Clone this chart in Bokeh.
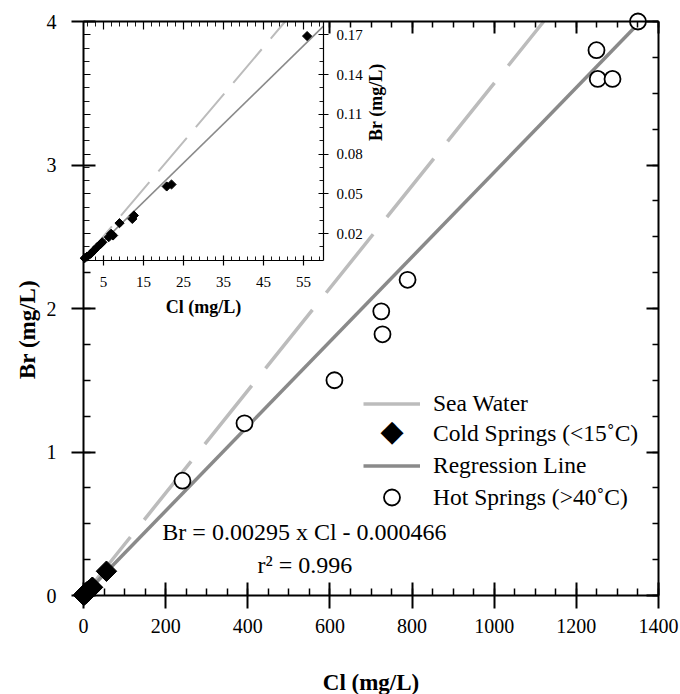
import math
from bokeh.plotting import figure
from bokeh.models import Range1d, LinearAxis, FixedTicker, Legend, LegendItem, Label
from bokeh.embed import file_html
from bokeh.resources import INLINE

# ---------------- data ----------------
cold_cl = [0.3, 0.9, 1.8, 2.6, 3.4, 4.3, 4.7, 6.3, 6.9, 7.4, 9.0, 12.2, 12.6, 20.8, 22.0, 55.9]
cold_br = [0.0014, 0.0026, 0.0047, 0.0072, 0.0097, 0.0122, 0.0134, 0.0172, 0.0198, 0.0185,
           0.0278, 0.0310, 0.0336, 0.0555, 0.0570, 0.1690]
hot_cl = [241, 392, 611, 725, 728, 789, 1249, 1252, 1288, 1350]
hot_br = [0.80, 1.20, 1.50, 1.98, 1.82, 2.20, 3.80, 3.60, 3.60, 4.00]

x_ticks = [0, 200, 400, 600, 800, 1000, 1200, 1400]
y_ticks = [0, 1, 2, 3, 4]
inset_x_ticks = [5, 15, 25, 35, 45, 55]
inset_y_ticks = [0.02, 0.05, 0.08, 0.11, 0.14, 0.17]
inset_y_labels = ["0.02", "0.05", "0.08", "0.11", "0.14", "0.17"]

reg_slope = 0.00295
reg_intercept = -0.000466
r2 = 0.996
sea_ratio = 0.00357

legend_labels = ["Sea Water", "Cold Springs (<15\u02daC)", "Regression Line", "Hot Springs (>40\u02daC)"]

# ---------------- layout (pixels) ----------------
W, H = 680, 694
FL, FR, FT, FB = 83, 658, 21, 595          # main plot box on the canvas
IR, IB = 323, 259.5                        # inset right / bottom edges on the canvas
X_MAX, Y_MAX = 1400, 4
IX_MAX, IY_MAX = 60, 0.18
FONT = "Liberation Serif"

sx = (FR - FL) / X_MAX
sy = (FB - FT) / Y_MAX
isx = (IR - FL) / IX_MAX
isy = (IB - FT) / IY_MAX

p = figure(width=W, height=H, title=None,
           x_range=Range1d(-FL / sx, X_MAX + (W - FR) / sx),
           y_range=Range1d(-(H - FB) / sy, Y_MAX + FT / sy),
           x_axis_type=None, y_axis_type=None,
           output_backend="svg", toolbar_location=None,
           min_border=0, min_border_left=0, min_border_right=0, min_border_top=0, min_border_bottom=0)
p.outline_line_color = None
p.background_fill_color = "white"
p.border_fill_color = "white"

p.extra_x_ranges = {"ix": Range1d(-FL / isx, (W - FL) / isx)}
p.extra_y_ranges = {"iy": Range1d(-(H - IB) / isy, IY_MAX + FT / isy)}

inset_right_main = (IR - FL) / sx
inset_bottom_main = (FB - IB) / sy

x_minor_all = [a + k * (b - a) / 4 for a, b in zip(x_ticks[:-1], x_ticks[1:]) for k in range(4)] + [x_ticks[-1]]
y_minor_all = [a + k * (b - a) / 4 for a, b in zip(y_ticks[:-1], y_ticks[1:]) for k in range(4)] + [y_ticks[-1]]
inset_x_minor = list(range(1, IX_MAX, 2))
inset_y_minor = [k / 100 for k in range(1, 18)]


def style(ax, size="20px", lw=2.0):
    ax.axis_line_color = "black"
    ax.axis_line_width = lw
    ax.major_tick_line_color = "black"
    ax.major_tick_line_width = lw
    ax.minor_tick_line_color = "black"
    ax.minor_tick_line_width = lw * 0.75
    ax.major_label_text_font = FONT
    ax.major_label_text_font_size = size
    ax.major_label_text_color = "black"
    ax.axis_label_text_font = FONT
    ax.axis_label_text_font_style = "bold"
    ax.axis_label_text_color = "black"


# main bottom axis
xb = LinearAxis(fixed_location=0, bounds=(0, X_MAX),
                ticker=FixedTicker(ticks=x_ticks, minor_ticks=x_minor_all), axis_label="Cl (mg/L)")
style(xb)
xb.major_tick_in = 13
xb.major_tick_out = 13
xb.minor_tick_in = 7
xb.minor_tick_out = 0
xb.major_label_standoff = 10
xb.axis_label_standoff = 34
xb.axis_label_text_font_size = "23px"
p.add_layout(xb, "below")

# main left axis
yl = LinearAxis(fixed_location=0, bounds=(0, Y_MAX),
                ticker=FixedTicker(ticks=y_ticks, minor_ticks=[v for v in y_minor_all if v < inset_bottom_main]))
style(yl)
yl.major_tick_in = 12
yl.major_tick_out = 12
yl.minor_tick_in = 7
yl.minor_tick_out = 0
yl.major_label_standoff = 15
p.add_layout(yl, "left")

# main top axis (ticks only)
xt = LinearAxis(fixed_location=Y_MAX, bounds=(0, X_MAX),
                ticker=FixedTicker(ticks=[v for v in x_ticks if v > inset_right_main],
                                   minor_ticks=[v for v in x_minor_all if v > inset_right_main]))
style(xt)
xt.major_tick_in = 12
xt.major_tick_out = 0
xt.minor_tick_in = 6
xt.minor_tick_out = 0
xt.major_label_text_color = None
p.add_layout(xt, "above")

# main right axis (ticks only)
yr = LinearAxis(fixed_location=X_MAX, bounds=(0, Y_MAX),
                ticker=FixedTicker(ticks=y_ticks, minor_ticks=y_minor_all))
style(yr)
yr.major_tick_in = 12
yr.major_tick_out = 0
yr.minor_tick_in = 6
yr.minor_tick_out = 0
yr.major_label_text_color = None
p.add_layout(yr, "right")

# inset axes
ib = LinearAxis(x_range_name="ix", y_range_name="iy", fixed_location=0, bounds=(0, IX_MAX),
                ticker=FixedTicker(ticks=inset_x_ticks, minor_ticks=inset_x_minor), axis_label="Cl (mg/L)")
style(ib, "15px", 1.2)
ib.major_tick_in = 5
ib.major_tick_out = 5
ib.minor_tick_in = 4
ib.minor_tick_out = 0
ib.major_label_standoff = 12
ib.axis_label_standoff = 6
ib.axis_label_text_font_size = "18px"
p.add_layout(ib, "below")

ir = LinearAxis(x_range_name="ix", y_range_name="iy", fixed_location=IX_MAX, bounds=(0, IY_MAX),
                ticker=FixedTicker(ticks=inset_y_ticks, minor_ticks=inset_y_minor), axis_label="Br (mg/L)",
                major_label_overrides=dict(zip(inset_y_ticks, inset_y_labels)))
style(ir, "15px", 1.2)
ir.major_tick_in = 5
ir.major_tick_out = 5
ir.minor_tick_in = 4
ir.minor_tick_out = 0
ir.major_label_standoff = 8
ir.axis_label_standoff = 10
ir.axis_label_text_font_size = "18px"
ir.axis_label_orientation = math.pi / 2
p.add_layout(ir, "right")

il = LinearAxis(x_range_name="ix", y_range_name="iy", fixed_location=0, bounds=(0, IY_MAX),
                ticker=FixedTicker(ticks=inset_y_ticks, minor_ticks=inset_y_minor))
style(il, "15px", 1.2)
il.axis_line_color = None
il.major_tick_in = 7
il.major_tick_out = 0
il.minor_tick_in = 6
il.minor_tick_out = 0
il.major_label_text_color = None
p.add_layout(il, "left")

it = LinearAxis(x_range_name="ix", y_range_name="iy", fixed_location=IY_MAX, bounds=(0, IX_MAX),
                ticker=FixedTicker(ticks=inset_x_ticks, minor_ticks=inset_x_minor))
style(it, "15px", 1.2)
it.axis_line_color = None
it.major_tick_in = 8
it.major_tick_out = 0
it.minor_tick_in = 5
it.minor_tick_out = 0
it.major_label_text_color = None
p.add_layout(it, "above")

# ---------------- inset glyphs ----------------
isea_x = [0, IY_MAX / sea_ratio]
p.line(x=isea_x, y=[v * sea_ratio for v in isea_x], x_range_name="ix", y_range_name="iy",
       line_color="#bcbcbc", line_width=2, line_dash="44 14")
ireg_x = [0, IX_MAX]
p.line(x=ireg_x, y=[reg_slope * v + reg_intercept for v in ireg_x], x_range_name="ix", y_range_name="iy",
       line_color="#8a8a8a", line_width=1.6)
p.scatter(x=cold_cl, y=cold_br, marker="square", angle=math.pi / 4, size=6.5, x_range_name="ix", y_range_name="iy",
          fill_color="black", line_color="black")

# ---------------- main glyphs ----------------
sea_x = [0, Y_MAX / sea_ratio]
sea = p.line(x=sea_x, y=[v * sea_ratio for v in sea_x], line_color="#bcbcbc", line_width=3.5, line_dash="75 22")
reg_x = [0, max(hot_cl)]
reg = p.line(x=reg_x, y=[reg_slope * v + reg_intercept for v in reg_x], line_color="#8a8a8a", line_width=3.5)
cold = p.scatter(x=cold_cl, y=cold_br, marker="square", angle=math.pi / 4, size=14.5,
                 fill_color="black", line_color="black")
hot = p.scatter(x=hot_cl, y=hot_br, marker="circle", size=16, fill_color="white",
                line_color="black", line_width=1.8)
cold_key = p.scatter(x=[], y=[], marker="square", size=1, fill_alpha=0, line_alpha=0)

# ---------------- legend ----------------
rows = [(sea, 403, 31), (cold_key, 433, 31), (reg, 465, 31), (hot, 497, 40)]
for (rend, yc, gh), text in zip(rows, legend_labels):
    lg = Legend(items=[LegendItem(label=text, renderers=[rend])],
                location=(363, H - yc - gh / 2),
                glyph_width=57, glyph_height=gh, label_height=gh, label_standoff=13,
                padding=0, margin=0, spacing=0,
                border_line_color=None, background_fill_alpha=0,
                label_text_font=FONT, label_text_font_size="23.5px", label_text_color="black")
    p.add_layout(lg)
# diamond key symbol of the cold-spring entry
p.add_layout(Label(x=391.5, y=H - 430, x_units="screen", y_units="screen", text="\u25c6",
                   text_align="center", text_baseline="middle",
                   text_font="DejaVu Sans", text_font_size="30px", text_color="black"))

# ---------------- titles and equation ----------------
p.add_layout(Label(x=27, y=H - 329, x_units="screen", y_units="screen", text="Br (mg/L)", angle=math.pi / 2,
                   text_align="center", text_baseline="middle",
                   text_font=FONT, text_font_style="bold", text_font_size="23px", text_color="black"))

eq = f"Br = {reg_slope} x Cl - {abs(reg_intercept)}"
p.add_layout(Label(x=538, y=0.44, text=eq, text_align="center", text_baseline="alphabetic",
                   text_font=FONT, text_font_size="24px", text_color="black"))
p.add_layout(Label(x=539, y=0.215, text=f"r\u00b2 = {r2}", text_align="center", text_baseline="alphabetic",
                   text_font=FONT, text_font_size="24px", text_color="black"))

open("out.html", "w").write(file_html(p, INLINE))
